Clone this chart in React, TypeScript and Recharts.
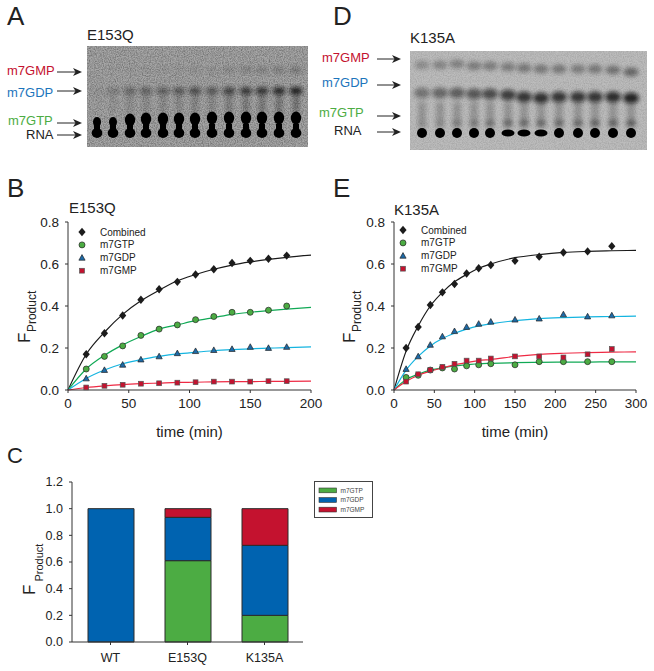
import {
  ComposedChart,
  BarChart,
  Bar,
  Line,
  XAxis,
  YAxis,
  Legend,
} from "recharts";

const FONT = "'Liberation Sans', Arial, sans-serif";

// panel B, E153Q
const timesB = [15, 30, 45, 60, 75, 90, 105, 120, 135, 150, 165, 180];
const combinedB = [0.17, 0.27, 0.355, 0.43, 0.48, 0.515, 0.55, 0.575, 0.605, 0.615, 0.625, 0.64];
const gtpB = [0.1, 0.16, 0.21, 0.26, 0.29, 0.31, 0.335, 0.35, 0.37, 0.37, 0.38, 0.4];
const gdpB = [0.055, 0.095, 0.12, 0.145, 0.16, 0.175, 0.185, 0.19, 0.195, 0.205, 0.2, 0.205];
const gmpB = [0.012, 0.02, 0.025, 0.03, 0.032, 0.035, 0.037, 0.04, 0.04, 0.04, 0.042, 0.042];

const fitTimesB = [0, 15, 30, 45, 60, 75, 90, 105, 120, 135, 150, 165, 180, 200];
const combinedFitB = [0, 0.17, 0.275, 0.36, 0.425, 0.475, 0.52, 0.55, 0.575, 0.595, 0.61, 0.622, 0.632, 0.642];
const gtpFitB = [0, 0.1, 0.165, 0.215, 0.255, 0.29, 0.31, 0.33, 0.345, 0.36, 0.37, 0.378, 0.385, 0.393];
const gdpFitB = [0, 0.055, 0.095, 0.125, 0.145, 0.16, 0.172, 0.18, 0.187, 0.192, 0.196, 0.199, 0.202, 0.205];
const gmpFitB = [0, 0.012, 0.02, 0.026, 0.03, 0.033, 0.036, 0.037, 0.039, 0.04, 0.04, 0.041, 0.041, 0.042];

// panel E, K135A
const timesE = [15, 30, 45, 60, 75, 90, 105, 120, 150, 180, 210, 240, 270];
const combinedE = [0.2, 0.3, 0.405, 0.465, 0.505, 0.555, 0.58, 0.595, 0.615, 0.635, 0.655, 0.66, 0.685];
const gtpE = [0.06, 0.07, 0.095, 0.105, 0.1, 0.115, 0.12, 0.125, 0.12, 0.135, 0.135, 0.135, 0.135];
const gdpE = [0.1, 0.16, 0.215, 0.255, 0.28, 0.3, 0.315, 0.325, 0.335, 0.34, 0.36, 0.35, 0.355];
const gmpE = [0.04, 0.075, 0.095, 0.11, 0.125, 0.14, 0.14, 0.15, 0.16, 0.16, 0.155, 0.17, 0.195];

const fitTimesE = [0, 15, 30, 45, 60, 75, 90, 105, 120, 150, 180, 210, 240, 270, 300];
const combinedFitE = [0, 0.185, 0.305, 0.4, 0.465, 0.515, 0.55, 0.58, 0.6, 0.63, 0.645, 0.655, 0.66, 0.663, 0.665];
const gtpFitE = [0, 0.05, 0.075, 0.095, 0.105, 0.115, 0.12, 0.125, 0.127, 0.13, 0.132, 0.133, 0.133, 0.134, 0.134];
const gdpFitE = [0, 0.095, 0.16, 0.21, 0.245, 0.27, 0.29, 0.305, 0.315, 0.33, 0.34, 0.345, 0.348, 0.35, 0.352];
const gmpFitE = [0, 0.04, 0.07, 0.09, 0.105, 0.12, 0.13, 0.14, 0.145, 0.16, 0.17, 0.175, 0.178, 0.18, 0.182];

// panel C
const mutants = ["WT", "E153Q", "K135A"];
const gtpShare = [0, 0.61, 0.2];
const gdpShare = [1, 0.325, 0.525];
const gmpShare = [0, 0.065, 0.275];

const GREEN = "#4cac43";
const BLUE = "#0063b0";
const RED = "#c4122f";

const seriesNames = ["Combined", "m7GTP", "m7GDP", "m7GMP"];

function Marker({ kind, cx, cy }: any) {
  if (cy == null || cx == null) return null;
  const dark = "#222";
  if (kind === 0)
    return <polygon points={`${cx},${cy - 4.2} ${cx + 3.6},${cy} ${cx},${cy + 4.2} ${cx - 3.6},${cy}`} fill="#1c1c1c" />;
  if (kind === 1)
    return <circle cx={cx} cy={cy} r={3} fill={GREEN} stroke={dark} strokeWidth={0.7} />;
  if (kind === 2)
    return <polygon points={`${cx},${cy - 3.2} ${cx + 3.1},${cy + 2.4} ${cx - 3.1},${cy + 2.4}`} fill="#1d6aa8" stroke={dark} strokeWidth={0.7} />;
  return <rect x={cx - 2.4} y={cy - 2.4} width={4.8} height={4.8} fill={RED} stroke="#555" strokeWidth={0.7} />;
}

function CurveLegend({ left, top, textLeft }: any) {
  return (
    <svg width={190} height={70} style={{ display: "block" }}>
      {seriesNames.map((name, i) => (
        <g key={name}>
          <Marker kind={i} cx={left} cy={top + i * 12.9} />
          <text x={textLeft} y={top + i * 12.9 + 3.5} fontSize={10} fontFamily={FONT} fill="#222">
            {name}
          </text>
        </g>
      ))}
    </svg>
  );
}

function BarLegend() {
  const items = [
    ["m7GTP", GREEN],
    ["m7GDP", BLUE],
    ["m7GMP", RED],
  ];
  return (
    <svg width={60} height={38} style={{ display: "block" }}>
      <rect x={0.5} y={0.5} width={58} height={36} fill="#fff" stroke="#444" strokeWidth={1} />
      {items.map(([name, color], i) => (
        <g key={name}>
          <rect x={5} y={7 + i * 9.6} width={17.5} height={4.8} fill={color} stroke="#333" strokeWidth={0.6} />
          <text x={26.5} y={11.8 + i * 9.6} fontSize={6.5} fontFamily={FONT} fill="#444">
            {name}
          </text>
        </g>
      ))}
    </svg>
  );
}

function makeRows(times: number[], pts: number[][], fitTimes: number[], fits: number[][]) {
  return fitTimes.map((t, i) => {
    const k = times.indexOf(t);
    return {
      time: t,
      combined: k >= 0 ? pts[0][k] : undefined,
      gtp: k >= 0 ? pts[1][k] : undefined,
      gdp: k >= 0 ? pts[2][k] : undefined,
      gmp: k >= 0 ? pts[3][k] : undefined,
      combinedFit: fits[0][i],
      gtpFit: fits[1][i],
      gdpFit: fits[2][i],
      gmpFit: fits[3][i],
    };
  });
}

const rowsB = makeRows(timesB, [combinedB, gtpB, gdpB, gmpB], fitTimesB, [combinedFitB, gtpFitB, gdpFitB, gmpFitB]);
const rowsE = makeRows(timesE, [combinedE, gtpE, gdpE, gmpE], fitTimesE, [combinedFitE, gtpFitE, gdpFitE, gmpFitE]);
const rowsC = mutants.map((name, i) => ({ name, gtp: gtpShare[i], gdp: gdpShare[i], gmp: gmpShare[i] }));

const tick = { fontSize: 13.5, fontFamily: FONT, fill: "#222" };
const smallTick = { fontSize: 12.5, fontFamily: FONT, fill: "#222" };
const axisLine = { stroke: "#333", strokeWidth: 1 };

function Kinetics({ rows, xMax, xTicks, left, width, yWidth, frame, legend }: any) {
  const keys = ["combined", "gtp", "gdp", "gmp"];
  const curveColors = ["#1a1a1a", "#10a955", "#14b4e0", "#ee2a44"];
  return (
    <div style={{ position: "absolute", left, top: 210 }}>
      <ComposedChart width={width} height={240} data={rows} margin={{ top: 12, right: 16, bottom: 0, left: 0 }}>
        <XAxis
          dataKey="time"
          type="number"
          domain={[0, xMax]}
          ticks={xTicks}
          height={60}
          tick={tick}
          tickSize={3}
          tickMargin={5}
          axisLine={axisLine}
          tickLine={axisLine}
          label={{ value: "time (min)", position: "insideBottom", offset: 13, fontSize: 15, fontFamily: FONT, fill: "#222" }}
        />
        <YAxis
          type="number"
          domain={[0, 0.8]}
          ticks={[0, 0.2, 0.4, 0.6, 0.8]}
          tickFormatter={(v) => v.toFixed(1)}
          width={yWidth}
          tick={tick}
          tickSize={3}
          tickMargin={6}
          axisLine={axisLine}
          tickLine={axisLine}
        />
        <XAxis xAxisId="frame" orientation="top" type="number" domain={[0, xMax]} height={0} tick={false} tickLine={false} axisLine={{ stroke: "#333" }} />
        <YAxis yAxisId="frame" orientation="right" width={0} tick={false} tickLine={false} axisLine={{ stroke: frame, strokeWidth: 1.2 }} />
        {keys.map((key, i) => (
          <Line
            key={key}
            dataKey={key}
            stroke="none"
            legendType="none"
            dot={(p: any) => <Marker key={`${key}${p.index}`} kind={i} cx={p.cx} cy={p.value == null ? null : p.cy} />}
            activeDot={false}
            isAnimationActive={false}
          />
        ))}
        {keys.map((key, i) => (
          <Line
            key={key + "Fit"}
            dataKey={key + "Fit"}
            type="monotone"
            stroke={curveColors[i]}
            strokeWidth={1.2}
            dot={false}
            activeDot={false}
            isAnimationActive={false}
          />
        ))}
        <Legend
          layout="vertical"
          align="center"
          verticalAlign="middle"
          wrapperStyle={{ position: "absolute", left: 0, top: 0, width: 200, height: 70 }}
          content={() => legend}
        />
      </ComposedChart>
    </div>
  );
}

function Shares() {
  return (
    <div style={{ position: "absolute", left: 0, top: 470 }}>
      <BarChart width={380} height={201} data={rowsC} margin={{ top: 12, right: 77, bottom: 0, left: 0 }} barSize={46}>
        <XAxis dataKey="name" height={29} tick={smallTick} tickSize={3} tickMargin={8} axisLine={axisLine} tickLine={axisLine} interval={0} />
        <YAxis
          type="number"
          domain={[0, 1.2]}
          ticks={[0, 0.2, 0.4, 0.6, 0.8, 1, 1.2]}
          tickFormatter={(v) => v.toFixed(1)}
          width={72}
          tick={smallTick}
          tickSize={3}
          tickMargin={6}
          axisLine={axisLine}
          tickLine={axisLine}
        />
        <XAxis xAxisId="frame" orientation="top" dataKey="name" height={0} tick={false} tickLine={false} axisLine={{ stroke: "#333" }} />
        <YAxis yAxisId="frame" orientation="right" width={0} tick={false} tickLine={false} axisLine={{ stroke: "#333" }} />
        <Bar dataKey="gtp" stackId="s" fill={GREEN} stroke="#2b2b2b" strokeWidth={1} isAnimationActive={false} />
        <Bar dataKey="gdp" stackId="s" fill={BLUE} stroke="#2b2b2b" strokeWidth={1} isAnimationActive={false} />
        <Bar dataKey="gmp" stackId="s" fill={RED} stroke="#2b2b2b" strokeWidth={1} isAnimationActive={false} />
        <Legend
          layout="vertical"
          align="center"
          verticalAlign="middle"
          wrapperStyle={{ position: "absolute", left: 314, top: 11, width: 60, height: 38 }}
          content={() => <BarLegend />}
        />
      </BarChart>
    </div>
  );
}

// gel lanes and how strong each band looks, read from the blots
const lanesA = [97, 113, 130, 146, 163, 179, 195, 212, 229, 246, 262, 279, 296];
const gdpBandA = [0.06, 0.2, 0.34, 0.38, 0.4, 0.44, 0.52, 0.45, 0.6, 0.66, 0.7, 0.78, 0.85];
const gmpBandA = [0, 0.02, 0.04, 0.06, 0.06, 0.08, 0.1, 0.1, 0.16, 0.2, 0.22, 0.26, 0.3];
const gtpYA = [122, 122, 120, 119, 119, 119, 119, 118, 118, 118, 118, 118, 118];
const lanesD = [422, 440, 457, 474, 490, 508, 524, 541, 559, 578, 595, 613, 631];
const gmpBandD = [0.3, 0.36, 0.38, 0.42, 0.42, 0.42, 0.45, 0.45, 0.45, 0.42, 0.45, 0.5, 0.58];
const gmpYD = [65, 65, 64, 66, 66, 67, 68, 69, 69, 69, 69, 70, 72];
const gdpBandD = [0.38, 0.45, 0.5, 0.55, 0.62, 0.7, 0.75, 0.78, 0.75, 0.75, 0.75, 0.8, 0.85];
const gdpYD = [93, 93, 93, 94, 94, 95, 97, 98, 97, 97, 97, 97, 98];
const gtpBandD = [0.06, 0.1, 0.2, 0.22, 0.3, 0.38, 0.38, 0.38, 0.38, 0.38, 0.42, 0.42, 0.45];

function Arrow({ x1, x2, y }: any) {
  return (
    <g>
      <line x1={x1} x2={x2 - 5} y1={y} y2={y} stroke="#222" strokeWidth={1} />
      <polygon points={`${x2},${y} ${x2 - 9},${y - 4} ${x2 - 6.5},${y} ${x2 - 9},${y + 4}`} fill="#222" />
    </g>
  );
}

function ProductLabel({ x, y, sub, gap, drop }: any) {
  return (
    <text transform={`translate(${x},${y}) rotate(-90)`} fontSize={17} fontFamily={FONT} fill="#222">
      F<tspan fontSize={sub} dx={gap} dy={drop}>Product</tspan>
    </text>
  );
}

function Gels() {
  const base = { fontFamily: FONT };
  return (
    <svg width={654} height={671} style={{ position: "absolute", left: 0, top: 0 }}>
      <defs>
        <filter id="grain" x="0" y="0" width="100%" height="100%">
          <feTurbulence type="fractalNoise" baseFrequency="0.85" numOctaves={2} seed={4} />
          <feColorMatrix values="0 0 0 0 0  0 0 0 0 0  0 0 0 0 0  1.6 0 0 0 -0.55" />
        </filter>
        <filter id="soft" x="-50%" y="-50%" width="200%" height="200%">
          <feGaussianBlur stdDeviation="2" />
        </filter>
        <filter id="softer" x="-50%" y="-50%" width="200%" height="200%">
          <feGaussianBlur stdDeviation="0.7" />
        </filter>
        <clipPath id="gelA"><rect x={87} y={46} width={221} height={101} /></clipPath>
        <clipPath id="gelD"><rect x={410} y={51} width={237} height={99} /></clipPath>
      </defs>

      <g clipPath="url(#gelA)">
        <rect x={87} y={46} width={221} height={101} fill="#a6a6a6" />
        {lanesA.map((x, i) => (
          <g key={x}>
            <ellipse cx={x} cy={70} rx={6.5} ry={3.5} fill="#333" opacity={gmpBandA[i]} filter="url(#soft)" />
            <ellipse cx={x} cy={91} rx={6.5} ry={4} fill="#111" opacity={gdpBandA[i]} filter="url(#soft)" />
            <rect x={x - 3} y={95} width={6} height={18} fill="#333" opacity={gdpBandA[i] * 0.5} filter="url(#soft)" />
            <ellipse cx={x} cy={gtpYA[i]} rx={i < 2 ? 4 : 5.2} ry={i < 2 ? 5 : 6.5} fill="#000" filter="url(#softer)" />
            <rect x={x - 3} y={124} width={6} height={8} fill="#000" />
            <ellipse cx={x} cy={133} rx={5.3} ry={5} fill="#000" filter="url(#softer)" />
          </g>
        ))}
        <rect x={87} y={46} width={221} height={101} filter="url(#grain)" opacity={0.4} />
      </g>

      <g clipPath="url(#gelD)">
        <rect x={410} y={51} width={237} height={99} fill="#bcbcbc" />
        {lanesD.map((x, i) => (
          <g key={x}>
            <ellipse cx={x} cy={gmpYD[i]} rx={7.5} ry={4.5} fill="#333" opacity={gmpBandD[i]} filter="url(#soft)" />
            <ellipse cx={x} cy={gdpYD[i]} rx={8} ry={5.5} fill="#111" opacity={gdpBandD[i]} filter="url(#soft)" />
            <rect x={x - 4} y={102} width={8} height={26} fill="#444" opacity={0.3} filter="url(#soft)" />
            <ellipse cx={x} cy={123} rx={5} ry={3.5} fill="#222" opacity={gtpBandD[i]} filter="url(#soft)" />
            <ellipse cx={x} cy={133} rx={i > 4 && i < 8 ? 6.5 : 5} ry={i > 4 && i < 8 ? 3.6 : 5} fill="#000" filter="url(#softer)" />
          </g>
        ))}
        <rect x={410} y={51} width={237} height={99} filter="url(#grain)" opacity={0.15} />
      </g>

      <g {...base} fontSize={26} fill="#222">
        <text x={7} y={25}>A</text>
        <text x={7} y={197}>B</text>
        <text x={7} y={463} fontSize={22}>C</text>
        <text x={333} y={25}>D</text>
        <text x={333} y={197}>E</text>
      </g>

      <g {...base} fontSize={15} fill="#222">
        <text x={87} y={40}>E153Q</text>
        <text x={410} y={43}>K135A</text>
        <text x={69} y={213}>E153Q</text>
        <text x={394} y={215}>K135A</text>
      </g>

      <g {...base} fontSize={13}>
        <text x={7} y={75} fill={RED}>m7GMP</text>
        <text x={7} y={97} fill="#1c75bc">m7GDP</text>
        <text x={8} y={125} fill={GREEN}>m7GTP</text>
        <text x={26} y={139} fill="#222">RNA</text>
        <text x={322} y={62} fill={RED}>m7GMP</text>
        <text x={322} y={87} fill="#1c75bc">m7GDP</text>
        <text x={319} y={117} fill={GREEN}>m7GTP</text>
        <text x={334} y={135} fill="#222">RNA</text>
      </g>

      <Arrow x1={57} x2={82} y={72} />
      <Arrow x1={57} x2={82} y={91} />
      <Arrow x1={57} x2={82} y={123} />
      <Arrow x1={57} x2={82} y={135} />
      <Arrow x1={377} x2={401} y={59} />
      <Arrow x1={377} x2={401} y={85} />
      <Arrow x1={377} x2={401} y={116} />
      <Arrow x1={377} x2={401} y={132} />

      <ProductLabel x={29.5} y={343} sub={12} gap={0.5} drop={6} />
      <ProductLabel x={355} y={343} sub={12} gap={0.5} drop={6} />
      <ProductLabel x={35} y={595} sub={11} gap={3} drop={8} />
    </svg>
  );
}

export default function App() {
  return (
    <div style={{ position: "absolute", left: 0, top: 0, width: 654, height: 671, background: "#fff", fontFamily: FONT, overflow: "hidden" }}>
      <Gels />
      <Kinetics
        rows={rowsB}
        xMax={200}
        xTicks={[0, 50, 100, 150, 200]}
        left={0}
        width={327}
        yWidth={68}
        frame="#444"
        legend={<div style={{ position: "absolute", left: 0, top: 0 }}><CurveLegend left={82} top={22} textLeft={100} /></div>}
      />
      <Kinetics
        rows={rowsE}
        xMax={300}
        xTicks={[0, 50, 100, 150, 200, 250, 300]}
        left={327}
        width={325}
        yWidth={67}
        frame="#8a8a8a"
        legend={<div style={{ position: "absolute", left: 0, top: 0 }}><CurveLegend left={76} top={20} textLeft={94} /></div>}
      />
      <Shares />
    </div>
  );
}
